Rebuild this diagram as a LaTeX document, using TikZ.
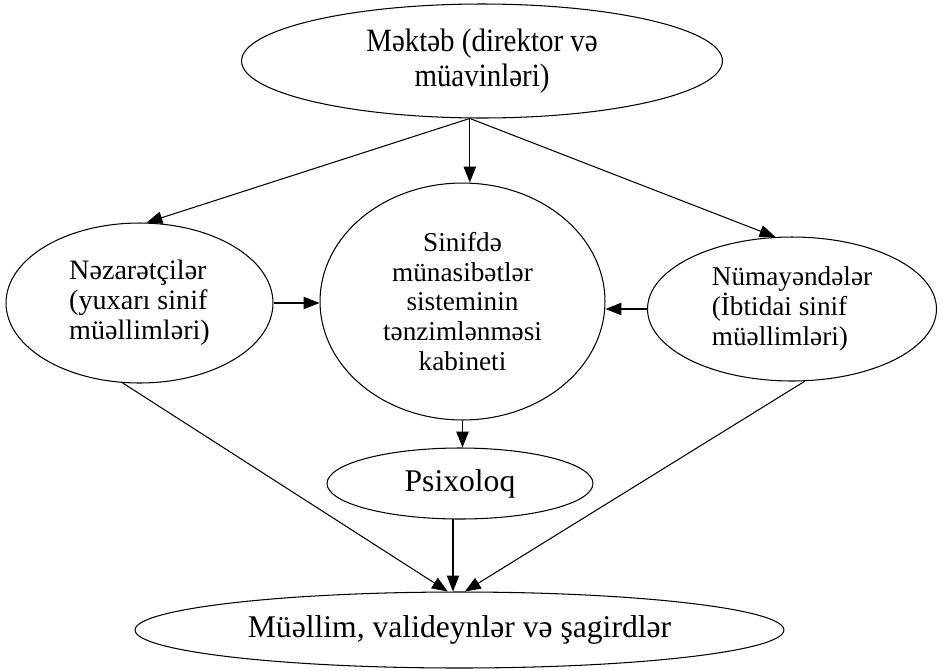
\documentclass[tikz,border=0pt]{standalone}
\usepackage{fontspec}
\setmainfont{Liberation Serif}
\newfontfamily\narrowserif[FakeStretch=0.89]{Liberation Serif}
\usetikzlibrary{shapes.geometric, arrows.meta}
\tikzstyle{oval} = [ellipse, draw, line width=0.6pt, inner sep=0pt]
\tikzstyle{arrow} = [line width=0.6pt, -{Triangle[length=9pt, width=7pt]}]

\begin{document}
\begin{tikzpicture}[x=0.02cm, y=-0.02cm]
    \useasboundingbox (0,0) rectangle (943,670);
    \node[oval, minimum width=9.62cm, minimum height=2.28cm, align=center, font=\narrowserif\fontsize{18.5}{20}\selectfont] (mekteb) at (482,61) {Məktəb (direktor və\\müavinləri)};
    \node[oval, minimum width=5.34cm, minimum height=3.2cm, align=left, font=\fontsize{16}{17}\selectfont] (nezaret) at (139.5,303) {Nəzarətçilər\\(yuxarı sinif\\müəllimləri)};
    \node[oval, minimum width=5.7cm, minimum height=4.74cm, align=center, font=\fontsize{15.5}{17}\selectfont] (kabinet) at (462.5,301.5) {Sinifdə\\münasibətlər\\sisteminin\\tənzimlənməsi\\kabineti};
    \node[oval, minimum width=5.78cm, minimum height=2.88cm, align=left, font=\fontsize{15.5}{17}\selectfont] (numayende) at (792,309) {Nümayəndələr\\(İbtidai sinif\\müəllimləri)};
    \node[oval, minimum width=5.32cm, minimum height=1.42cm, font=\fontsize{18}{20}\selectfont] (psixoloq) at (460,483.5) {Psixoloq};
    \node[oval, minimum width=12.98cm, minimum height=1.52cm, font=\fontsize{18}{20}\selectfont] (muellim) at (459.5,630) {Müəllim, valideynlər və şagirdlər};

    \draw[arrow] (mekteb.-102) -- (nezaret.85);
    \draw[arrow] (mekteb.-102) -- (mekteb.-102 |- kabinet.north);
    \draw[arrow] (mekteb.-102) -- (numayende.103);
    \draw[arrow] (nezaret.east) -- (nezaret.east -| kabinet.west);
    \draw[arrow] (numayende.west) -- (numayende.west -| kabinet.east);
    \draw[arrow] (kabinet.south) -- (kabinet.south |- psixoloq.north);
    \draw[arrow] (nezaret.-102) -- (muellim.107);
    \draw[arrow] (psixoloq.-101) -- (psixoloq.-101 |- muellim.north);
    \draw[arrow] (numayende.-80) -- (muellim.82);
\end{tikzpicture}
\end{document}
